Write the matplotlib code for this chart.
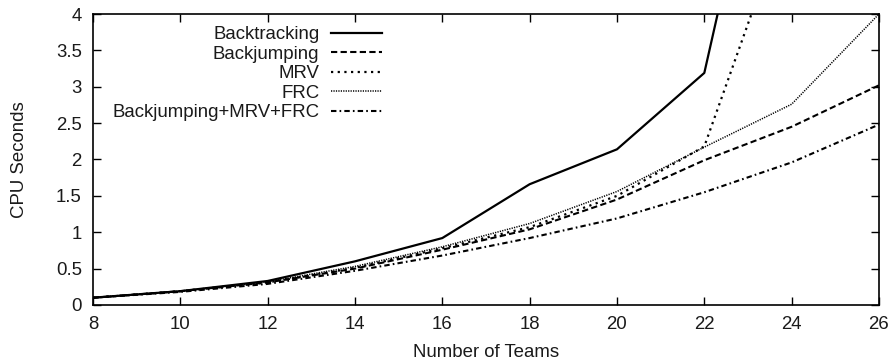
import matplotlib
matplotlib.use("Agg")
import matplotlib.pyplot as plt
from matplotlib.ticker import FuncFormatter

plt.rcParams['font.family'] = ['Liberation Sans', 'DejaVu Sans']

teams = [8, 10, 12, 14, 16, 18, 20, 22, 24, 26]
backtracking = [0.10, 0.19, 0.33, 0.60, 0.92, 1.66, 2.14, 3.19, 8.5, 20.0]
backjumping = [0.10, 0.19, 0.31, 0.50, 0.76, 1.04, 1.45, 1.99, 2.45, 3.02]
mrv = [0.10, 0.19, 0.31, 0.51, 0.78, 1.07, 1.50, 2.18, 5.55, 12.0]
frc = [0.10, 0.19, 0.32, 0.53, 0.80, 1.12, 1.56, 2.17, 2.76, 4.00]
combined = [0.10, 0.18, 0.29, 0.47, 0.68, 0.92, 1.19, 1.55, 1.96, 2.48]

labels = ["Backtracking", "Backjumping", "MRV", "FRC", "Backjumping+MRV+FRC"]

FS = 13.4
TXT = "#1a1a1a"

fig = plt.figure(figsize=(8.93, 3.60), dpi=100)
ax = fig.add_axes([0.1041, 0.1528, 0.8802, 0.8083])

ax.plot(teams, backtracking, color="black", lw=1.6, linestyle="-", label=labels[0])
ax.plot(teams, backjumping, color="black", lw=1.5, linestyle=(0, (3.0, 1.6)), label=labels[1])
ax.plot(teams, mrv, color="black", lw=1.6, linestyle=(0, (1.0, 2.0)), label=labels[2])
ax.plot(teams, frc, color="black", lw=1.1, linestyle=(0, (0.8, 0.8)), label=labels[3])
ax.plot(teams, combined, color="black", lw=1.5, linestyle=(0, (2.6, 1.5, 0.8, 1.5)), label=labels[4])

ax.set_xlim(8, 26)
ax.set_ylim(0, 4)
ax.set_xticks(range(8, 27, 2))
ax.set_yticks([0, 0.5, 1, 1.5, 2, 2.5, 3, 3.5, 4])
ax.yaxis.set_major_formatter(FuncFormatter(lambda v, p: f"{v:g}"))

ax.tick_params(direction="in", length=5.5, width=1.0, top=True, right=True,
               labelsize=FS, colors="black", labelcolor=TXT)
ax.tick_params(axis="y", pad=8)
ax.tick_params(axis="x", pad=8)
for s in ax.spines.values():
    s.set_linewidth(1.2)

ax.set_xlabel("Number of Teams", fontsize=FS, labelpad=8, color=TXT)
ax.set_ylabel("CPU Seconds", fontsize=FS, labelpad=20, color=TXT)

leg = ax.legend(loc="upper right", bbox_to_anchor=(0.368, 0.958), frameon=False,
                markerfirst=False, fontsize=FS, handlelength=2.75, handletextpad=0.62,
                labelspacing=0.13, borderpad=0, borderaxespad=0)
for t in leg.get_texts():
    t.set_color(TXT)

fig.savefig("out.png", dpi=100)
